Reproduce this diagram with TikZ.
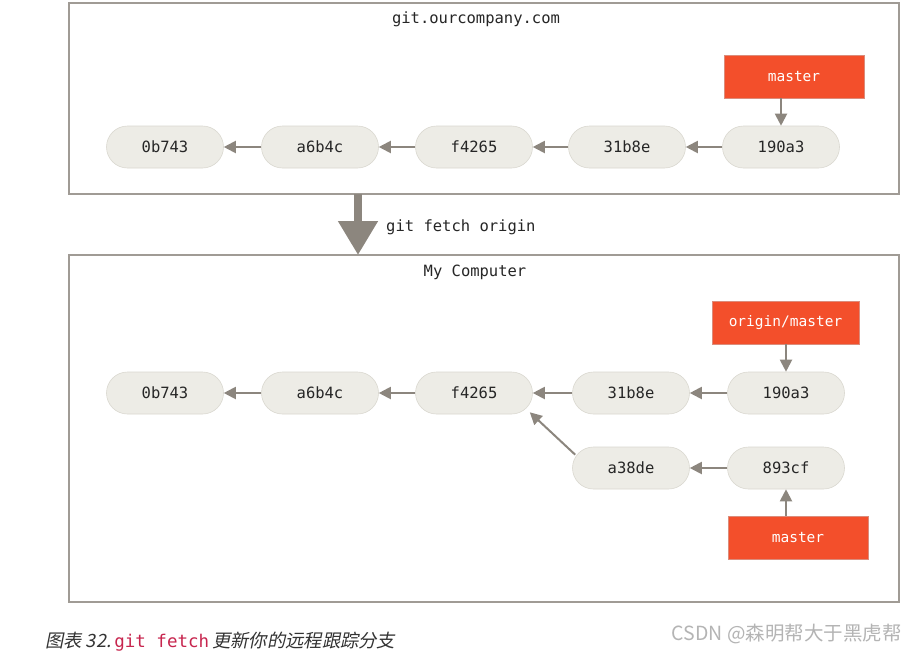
\documentclass[tikz,border=0pt]{standalone}
\usepackage{fontspec}
\setmonofont{DejaVu Sans Mono}
\newfontfamily\cjk{Noto Sans CJK SC}
\newfontfamily\cjkit[FakeSlant=0.2]{Noto Sans CJK SC}
\usetikzlibrary{arrows.meta}
\definecolor{commitfill}{HTML}{EDECE6}
\definecolor{commitline}{HTML}{DAD8D0}
\definecolor{arrowgray}{HTML}{8C867E}
\definecolor{boxgray}{HTML}{A09B95}
\definecolor{gitred}{HTML}{F34F2B}
\definecolor{codered}{HTML}{C7254E}
\definecolor{wmgray}{HTML}{B4B4B4}
\begin{document}
\begin{tikzpicture}[x=1pt,y=-1pt,
  commit/.style={draw=commitline, line width=0.6pt, fill=commitfill, rounded corners=21pt,
    minimum width=117pt, minimum height=42pt, inner sep=0pt, font=\fontsize{15.5}{18}\selectfont\ttfamily, text=black!85},
  branch/.style={fill=gitred, draw=gitred!80!black!60, line width=0.5pt, minimum height=43pt, inner sep=0pt,
    font=\fontsize{14.5}{17}\selectfont\ttfamily, text=white},
  frame/.style={draw=boxgray, line width=1.6pt, inner sep=0pt},
  title/.style={font=\fontsize{15.5}{18}\selectfont\ttfamily, text=black!85, inner sep=0pt},
  arr/.style={draw=arrowgray, line width=2pt, -{Triangle[length=12pt,width=12pt]}},
]
\useasboundingbox (0,0) rectangle (918,653);
\fill[white] (0,0) rectangle (918,653);

% frames
\node[frame, minimum width=830pt, minimum height=191pt] (server) at (484,98.5) {};
\node[frame, minimum width=830pt, minimum height=347pt] (local) at (484,428.5) {};
\node[title] (servertitle) at (476,19) {git.ourcompany.com};
\node[title] (localtitle) at (475,272) {My Computer};

% server commits
\node[commit] (t1) at (165,147) {0b743};
\node[commit] (t2) at (320,147) {a6b4c};
\node[commit] (t3) at (474,147) {f4265};
\node[commit] (t4) at (627,147) {31b8e};
\node[commit] (t5) at (781,147) {190a3};
\node[branch, minimum width=140pt] (tm) at (794,76.5) {master};

\draw[arr] (t2) -- (t1);
\draw[arr] (t3) -- (t2);
\draw[arr] (t4) -- (t3);
\draw[arr] (t5) -- (t4);
\draw[arr] (t5.north |- tm.south) -- (t5.north);

% fetch arrow
\coordinate (fa) at (358,194);
\coordinate (fb) at (358,255);
\draw[draw=arrowgray, fill=arrowgray, line width=8pt, -{Triangle[length=34pt,width=38pt]}] (fa) -- (fb);
\node[title, anchor=west] (fetchlbl) at (386,227) {git fetch origin};

% local commits
\node[commit] (b1) at (165,393) {0b743};
\node[commit] (b2) at (320,393) {a6b4c};
\node[commit] (b3) at (474,393) {f4265};
\node[commit] (b4) at (631,393) {31b8e};
\node[commit] (b5) at (786,393) {190a3};
\node[commit] (b6) at (631,468) {a38de};
\node[commit] (b7) at (786,468) {893cf};
\node[branch, minimum width=147pt] (om) at (785.5,322.5) {origin/master};
\node[branch, minimum width=140pt] (lm) at (798,538) {master};

\draw[arr] (b2) -- (b1);
\draw[arr] (b3) -- (b2);
\draw[arr] (b4) -- (b3);
\draw[arr] (b5) -- (b4);
\draw[arr] (b7) -- (b6);
\draw[arr] ([xshift=3pt,yshift=-8pt]b6.north west) -- ([xshift=-3pt,yshift=2pt]b3.south east);
\draw[arr] (b5.north |- om.south) -- (b5.north);
\draw[arr] (b7.south |- lm.north) -- (b7.south);

% caption
\node[anchor=west, inner sep=0pt, text=black!80] (caption) at (45,642)
  {\fontsize{18.3}{20}\selectfont\cjkit 图表 32.\,{\ttfamily\color{codered}\fontsize{17.5}{20}\selectfont git fetch}\,更新你的远程跟踪分支};
\node[anchor=east, inner sep=0pt, text=wmgray] (wm) at (902,634)
  {\fontsize{19.5}{22}\selectfont\cjk CSDN @森明帮大于黑虎帮};
\end{tikzpicture}
\end{document}
